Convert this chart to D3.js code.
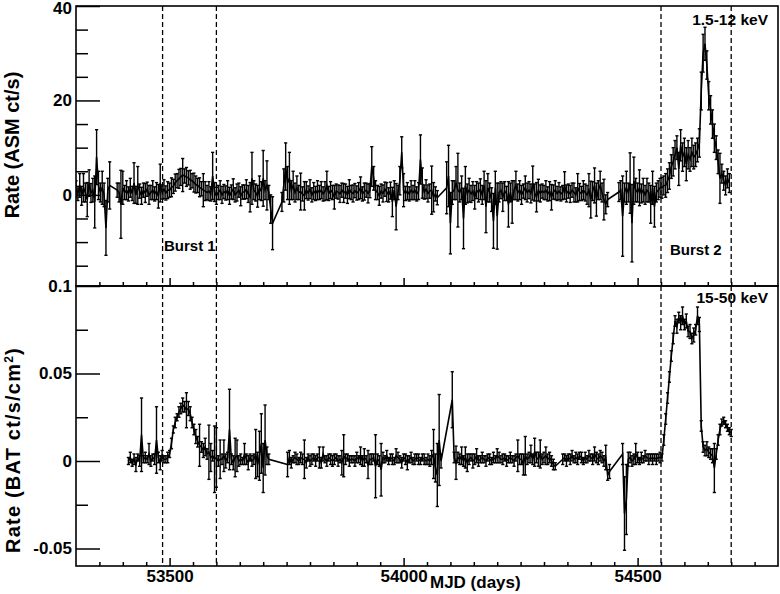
<!DOCTYPE html>
<html><head><meta charset="utf-8">
<script src="https://cdn.jsdelivr.net/npm/d3@7"></script>
<style>
body{margin:0;background:#fff}
svg text{font-family:"Liberation Sans",Arial,Helvetica,sans-serif;font-weight:bold;fill:#000}
</style>
</head><body>
<svg id="c" width="780" height="594"></svg>
<script>
// ---------------- DATA ----------------
// RXTE/ASM 1.5-12 keV, 4-day sampling from MJD 53300 (null = no data)
const asmStart = 53300, asmStep = 4;
const asmRate = [
 1.2,0.3,2.0,-0.2,1.5,0.5,-1.0,2.5,0.4,1.0,
 -1.5,8.0,2.0,0.5,1.5,0.0,-7.0,1.0,2.0,null,
 null,null,1.0,0.5,-2.0,1.5,0.5,1.0,0.2,1.5,
 0.3,2.5,0.0,2.0,0.8,-0.2,1.0,0.4,1.2,0.0,
 0.5,1.0,0.2,0.8,-0.3,2.5,0.6,1.2,0.4,1.0,
 1.0,1.6,1.8,2.6,3.0,3.4,3.8,4.2,4.0,3.8,
 3.6,3.2,3.0,2.6,2.2,2.0,1.6,1.3,1.0,0.8,
 0.5,0.8,0.2,4.0,0.6,-0.2,0.5,1.0,0.0,0.7,
 0.4,1.0,-0.2,0.6,1.2,0.0,0.5,1.0,-0.3,0.6,
 0.6,1.2,0.2,-0.5,3.5,1.0,0.5,-0.3,1.5,0.8,
 3.5,1.0,2.0,0.5,-3.0,-6.0,null,null,null,null,
 -1.5,2.0,6.0,2.5,3.5,1.0,2.0,0.5,1.5,0.5,
 0.7,0.2,-0.2,1.0,0.4,1.2,0.0,0.8,0.3,1.0,
 0.5,1.0,0.2,0.8,2.0,0.3,1.0,0.5,-0.5,0.8,
 0.6,0.2,1.0,0.4,0.8,0.0,1.2,0.5,0.3,0.9,
 0.4,0.8,1.5,0.2,0.7,1.0,0.3,0.9,6.0,3.5,
 1.0,0.5,-0.2,0.8,0.3,1.2,0.6,0.0,0.9,-1.5,
 1.0,-2.5,0.5,3.0,9.0,1.0,0.3,0.8,0.2,1.0,
 0.5,1.0,0.2,0.8,7.5,2.5,0.6,1.2,0.3,0.8,
 1.0,-0.5,0.2,-0.6,null,null,null,null,1.5,4.0,
 -6.0,0.5,1.0,2.5,1.0,0.5,1.5,-5.0,2.0,0.3,
 1.0,0.2,0.8,-0.5,1.0,0.5,1.2,0.0,2.0,-2.5,
 1.5,0.5,-1.0,-5.5,1.5,-4.5,0.5,1.0,-0.5,0.8,
 0.3,-2.0,0.5,-1.5,1.0,2.0,0.5,1.0,0.0,0.8,
 1.5,0.5,1.0,0.3,2.5,0.5,-0.5,1.0,0.3,0.8,
 0.5,1.0,0.2,0.8,-0.5,0.6,1.0,0.3,0.8,0.2,
 0.5,2.0,0.3,0.8,0.2,1.0,0.5,0.0,1.5,0.6,
 0.3,1.0,0.5,0.0,1.0,-1.0,0.8,2.0,-1.0,1.0,
 2.0,0.5,-1.0,-2.0,-1.0,null,null,null,null,null,
 0.6,1.0,-4.5,0.5,1.5,0.5,2.5,-6.0,3.0,1.0,
 0.5,1.5,0.3,1.0,0.0,1.0,0.5,-2.0,1.5,-2.5,
 0.5,1.0,1.5,1.5,2.0,2.0,3.0,4.0,6.0,7.0,
 8.5,10.0,5.5,10.5,8.0,9.0,6.5,8.5,7.5,9.0,
 8.0,8.5,9.5,11.0,22.0,30.0,32.0,27.5,21.0,18.0,
 15.0,12.0,10.0,7.0,3.5,4.5,3.0,2.0,3.5,2.5
];
const asmErr = [
 1.8,1.5,2.5,2.0,3.0,2.0,3.6,2.8,2.0,2.5,
 5.5,5.8,3.0,2.0,3.5,2.5,5.8,2.5,5.0,null,
 null,null,1.5,2.0,7.2,3.5,1.5,2.0,1.5,2.0,
 1.5,4.3,1.8,4.0,1.5,1.8,1.5,2.0,1.5,2.0,
 1.5,2.0,1.5,1.8,2.5,4.0,1.5,2.0,1.5,1.8,
 1.5,2.0,1.5,1.8,1.5,2.0,1.8,3.5,1.5,2.0,
 1.5,2.0,1.5,2.0,1.8,1.5,2.0,1.5,3.5,2.0,
 1.5,2.0,1.5,5.0,2.0,1.8,1.5,2.0,1.8,1.5,
 1.5,2.0,1.8,1.5,2.2,1.5,1.8,1.5,2.0,1.5,
 1.5,2.0,1.8,3.1,5.5,2.0,1.8,2.3,2.5,2.0,
 5.9,2.0,5.2,1.5,3.0,5.6,null,null,null,null,
 2.0,3.5,5.0,3.5,5.5,2.0,3.0,2.0,2.5,1.5,
 3.9,1.5,3.0,1.8,1.5,2.0,1.5,1.8,1.5,2.0,
 1.5,1.8,1.5,2.0,3.0,1.5,1.8,1.5,2.5,1.5,
 1.5,1.8,1.5,2.0,1.5,1.8,2.0,1.5,1.8,1.5,
 1.5,1.8,2.3,1.5,1.8,1.5,2.0,1.5,4.2,2.5,
 2.0,1.5,2.0,1.5,1.8,1.5,2.0,1.5,1.8,3.1,
 2.0,4.9,1.5,3.0,3.3,3.5,1.5,1.8,1.5,2.0,
 1.5,2.0,1.5,1.8,5.2,3.2,1.5,2.0,1.8,1.5,
 5.1,3.1,1.5,1.5,null,null,null,null,5.5,6.5,
 6.5,2.5,2.0,3.5,7.8,2.0,2.5,6.4,4.0,2.0,
 2.5,1.8,2.0,2.5,1.8,2.0,2.2,2.0,3.0,5.5,
 3.0,2.0,2.5,5.8,3.5,7.0,2.0,1.8,3.0,2.0,
 1.5,4.8,2.0,4.5,2.0,3.0,1.8,2.0,2.0,1.5,
 2.5,2.0,1.8,2.0,3.6,1.8,3.1,2.3,1.8,1.5,
 1.5,2.0,1.5,2.0,2.7,1.5,2.0,1.5,1.8,1.5,
 1.5,2.9,1.8,1.5,1.8,1.5,2.0,1.5,3.0,1.8,
 1.5,2.0,1.8,2.0,3.5,3.9,2.0,3.7,3.5,2.0,
 3.0,2.0,4.3,2.0,1.5,null,null,null,null,null,
 2.0,2.0,8.5,2.0,3.5,2.0,6.4,8.2,5.0,2.5,
 2.0,3.8,2.0,2.5,2.0,2.5,2.0,4.0,3.5,4.3,
 2.0,2.0,2.0,2.2,2.0,2.5,2.5,2.8,2.5,3.0,
 3.0,2.5,3.5,3.3,3.0,3.0,3.5,3.0,2.5,3.0,
 2.5,2.5,2.5,3.0,4.0,4.0,3.5,3.0,3.0,3.0,
 3.0,3.0,2.5,2.5,5.3,2.0,2.0,2.0,2.0,2.0
];

// Swift/BAT 15-50 keV, 4-day sampling from MJD 53412 (null = no data)
const batStart = 53412, batStep = 4;
const batRate = [
 0.000,0.002,-0.001,0.001,-0.002,0.002,0.000,0.015,0.001,0.002,
 0.001,0.004,0.000,0.002,0.001,0.012,0.002,-0.001,0.003,0.001,
 0.001,0.002,0.004,0.010,0.018,0.022,0.025,0.028,0.030,0.032,
 0.031,0.029,0.030,0.027,0.022,0.018,0.014,0.011,0.009,0.008,
 0.006,0.008,0.004,0.005,0.002,0.003,0.001,0.002,0.000,0.001,
 0.001,0.003,0.000,0.002,0.018,0.001,-0.001,0.002,0.003,0.000,
 0.001,0.000,0.004,0.001,-0.001,0.002,0.000,0.001,0.004,-0.002,
 0.003,0.010,-0.004,0.012,0.003,0.001,null,null,null,null,
 null,null,null,null,null,-0.002,0.002,-0.001,0.001,0.002,
 0.001,0.000,0.002,0.001,0.001,-0.001,0.002,0.000,0.001,0.002,
 0.000,0.002,0.002,-0.001,0.004,0.001,0.000,0.002,0.001,0.000,
 0.001,0.002,0.000,0.001,-0.001,0.003,0.001,0.002,0.000,0.001,
 0.001,0.000,0.002,0.001,0.003,0.000,0.002,0.001,-0.002,0.001,
 0.001,0.002,-0.003,0.001,0.000,-0.005,0.002,0.001,0.003,0.000,
 0.002,0.001,0.000,0.003,0.002,0.001,-0.001,0.002,0.001,-0.001,
 0.001,0.002,0.000,0.001,0.002,0.001,0.000,0.002,0.001,0.000,
 0.001,0.000,0.002,0.004,-0.004,-0.008,0.012,0.000,null,null,
 null,null,null,0.035,0.002,-0.001,0.002,0.001,0.003,0.000,
 0.002,-0.001,0.001,0.002,0.000,0.001,0.003,0.000,0.001,0.002,
 0.001,0.000,0.002,0.001,0.000,0.002,0.001,0.003,0.002,0.001,
 0.001,0.002,0.000,0.001,0.002,0.001,0.000,0.002,0.003,0.001,
 0.001,-0.002,0.003,0.001,0.002,0.004,0.001,0.005,0.002,0.001,
 0.004,0.001,0.002,0.003,0.001,0.002,0.000,-0.002,-0.003,null,
 null,null,0.001,0.002,0.000,0.002,0.001,0.003,0.001,0.002,
 0.001,0.003,0.002,0.000,0.002,0.001,0.003,0.002,0.001,0.004,
 0.002,0.001,0.003,0.002,0.000,0.002,-0.008,-0.006,null,null,
 null,null,null,null,0.004,-0.030,-0.022,0.001,0.002,0.000,
 0.001,0.004,0.002,0.000,0.002,0.001,0.003,0.002,0.001,0.002,
 0.001,0.002,0.001,0.002,0.002,0.002,0.012,0.024,0.036,0.048,
 0.060,0.070,0.080,0.077,0.082,0.079,0.083,0.078,0.080,0.074,
 0.074,0.070,0.072,0.075,0.083,0.078,0.020,0.008,0.006,0.007,
 0.005,0.004,0.003,-0.004,0.004,0.012,0.018,0.022,0.023,0.021,
 0.019,0.017,0.016
];
const batErr = [
 0.002,0.003,0.002,0.003,0.004,0.002,0.003,0.021,0.002,0.003,
 0.002,0.006,0.003,0.002,0.003,0.019,0.003,0.004,0.003,0.002,
 0.002,0.003,0.002,0.003,0.002,0.003,0.002,0.003,0.003,0.004,
 0.003,0.010,0.004,0.004,0.003,0.003,0.004,0.003,0.012,0.003,
 0.004,0.005,0.003,0.0155,0.008,0.003,0.019,0.017,0.003,0.011,
 0.003,0.009,0.004,0.003,0.023,0.003,0.004,0.011,0.009,0.003,
 0.003,0.002,0.006,0.003,0.004,0.002,0.003,0.003,0.014,0.007,
 0.014,0.017,0.014,0.020,0.005,0.003,null,null,null,null,
 null,null,null,null,null,0.007,0.004,0.003,0.002,0.003,
 0.003,0.002,0.003,0.003,0.011,0.003,0.002,0.003,0.003,0.002,
 0.003,0.002,0.006,0.003,0.004,0.002,0.003,0.002,0.003,0.003,
 0.003,0.002,0.003,0.002,0.007,0.012,0.003,0.002,0.003,0.002,
 0.002,0.003,0.003,0.002,0.005,0.003,0.005,0.002,0.008,0.003,
 0.003,0.002,0.018,0.003,0.003,0.015,0.003,0.002,0.003,0.002,
 0.002,0.003,0.002,0.004,0.003,0.002,0.003,0.002,0.003,0.004,
 0.002,0.003,0.002,0.003,0.002,0.003,0.002,0.002,0.003,0.002,
 0.003,0.003,0.004,0.014,0.008,0.018,0.026,0.004,null,null,
 null,null,null,0.016,0.003,0.0095,0.003,0.003,0.005,0.003,
 0.006,0.005,0.003,0.002,0.004,0.003,0.004,0.003,0.002,0.003,
 0.002,0.003,0.002,0.003,0.002,0.003,0.002,0.004,0.003,0.002,
 0.003,0.002,0.003,0.002,0.003,0.002,0.003,0.002,0.009,0.003,
 0.003,0.006,0.011,0.003,0.003,0.005,0.003,0.008,0.003,0.004,
 0.008,0.003,0.003,0.005,0.003,0.003,0.003,0.003,0.002,null,
 null,null,0.003,0.002,0.003,0.002,0.003,0.003,0.002,0.003,
 0.003,0.002,0.003,0.002,0.003,0.002,0.003,0.002,0.003,0.004,
 0.003,0.003,0.003,0.003,0.003,0.007,0.003,0.004,null,null,
 null,null,null,null,0.006,0.021,0.020,0.004,0.003,0.003,
 0.003,0.006,0.003,0.002,0.003,0.002,0.003,0.002,0.003,0.002,
 0.003,0.002,0.003,0.002,0.003,0.002,0.003,0.003,0.003,0.003,
 0.003,0.003,0.003,0.004,0.003,0.004,0.005,0.003,0.004,0.003,
 0.004,0.003,0.004,0.003,0.005,0.004,0.003,0.003,0.003,0.004,
 0.003,0.003,0.004,0.014,0.003,0.003,0.003,0.002,0.002,0.002,
 0.002,0.002,0.002
];

// burst interval boundaries (MJD)
const burstLines = [53485, 53600, 54550, 54700];
const xMajorTicks = [53500, 54000, 54500];
const asmMajorTicks = [0, 20, 40];
const asmMinorTicks = [-15, -10, -5, 5, 10, 15, 25, 30, 35];
const batMajorTicks = [-0.05, 0, 0.05, 0.1];
const batTickLabels = ["-0.05", "0", "0.05", "0.1"];
const batMinorTicks = [-0.025, 0.025, 0.075];

// ---------------- LAYOUT ----------------
const svg = d3.select("#c");
svg.append("rect").attr("width", 780).attr("height", 594).attr("fill", "#fff");
const L = 76, R = 778, T1 = 6, B1 = 286, T2 = 286, B2 = 566;
const x = d3.scaleLinear().domain([53300, 54800]).range([L, R]);
const yA = d3.scaleLinear().domain([-19.3, 40]).range([B1, T1]);
const yB = d3.scaleLinear().domain([-0.06, 0.1]).range([B2, T2]);
const xMinor = d3.range(53350, 54800, 50).filter(t => !xMajorTicks.includes(t));

const asmData = asmRate.map((v, i) => ({t: asmStart + asmStep * i, v, e: asmErr[i]})).filter(d => d.v !== null);
const batData = batRate.map((v, i) => ({t: batStart + batStep * i, v, e: batErr[i]})).filter(d => d.v !== null);

function drawSeries(data, y, top, bottom, id) {
  svg.append("clipPath").attr("id", id).append("rect")
    .attr("x", L).attr("y", top).attr("width", R - L).attr("height", bottom - top);
  const g = svg.append("g").attr("clip-path", `url(#${id})`);
  const eb = g.append("g").attr("stroke", "#000").attr("stroke-width", 1.4);
  eb.selectAll("line.v").data(data).join("line").attr("class", "v")
    .attr("x1", d => x(d.t)).attr("x2", d => x(d.t))
    .attr("y1", d => y(d.v - d.e)).attr("y2", d => y(d.v + d.e));
  eb.selectAll("line.ct").data(data).join("line").attr("class", "ct")
    .attr("x1", d => x(d.t) - 1.6).attr("x2", d => x(d.t) + 1.6)
    .attr("y1", d => y(d.v + d.e)).attr("y2", d => y(d.v + d.e));
  eb.selectAll("line.cb").data(data).join("line").attr("class", "cb")
    .attr("x1", d => x(d.t) - 1.6).attr("x2", d => x(d.t) + 1.6)
    .attr("y1", d => y(d.v - d.e)).attr("y2", d => y(d.v - d.e));
  g.append("path").datum(data)
    .attr("d", d3.line().x(d => x(d.t)).y(d => y(d.v)))
    .attr("fill", "none").attr("stroke", "#000").attr("stroke-width", 1.6);
}
drawSeries(asmData, yA, T1, B1, "clipA");
drawSeries(batData, yB, T2, B2, "clipB");

// axes helper
function styleAxis(g, size) {
  g.select(".domain").remove();
  g.selectAll(".tick line").attr("stroke", "#000").attr("stroke-width", 1.5);
  g.selectAll("text").attr("font-size", size).attr("font-family", '"Liberation Sans",Arial,sans-serif')
    .attr("font-weight", "bold").attr("fill", "#000");
}
// Y axes top
svg.append("g").attr("transform", `translate(${L},0)`)
  .call(d3.axisLeft(yA).tickValues(asmMajorTicks).tickSize(-24).tickPadding(4).tickFormat(d3.format("d")))
  .call(g => styleAxis(g, 17))
  .call(g => g.selectAll(".tick text").attr("dy", (d) => d === 40 ? "0.45em" : "0.32em"));
svg.append("g").attr("transform", `translate(${L},0)`)
  .call(d3.axisLeft(yA).tickValues(asmMinorTicks).tickSize(-12).tickFormat(""))
  .call(g => styleAxis(g, 17));
// Y axes bottom
svg.append("g").attr("transform", `translate(${L},0)`)
  .call(d3.axisLeft(yB).tickValues(batMajorTicks).tickSize(-24).tickPadding(4)
    .tickFormat((d, i) => batTickLabels[i]))
  .call(g => styleAxis(g, 17));
svg.append("g").attr("transform", `translate(${L},0)`)
  .call(d3.axisLeft(yB).tickValues(batMinorTicks).tickSize(-12).tickFormat(""))
  .call(g => styleAxis(g, 17));
// X axes (top panel: no labels)
[B1, B2].forEach((yy, k) => {
  svg.append("g").attr("transform", `translate(0,${yy})`)
    .call(d3.axisBottom(x).tickValues(xMinor).tickSize(-4).tickFormat(""))
    .call(g => styleAxis(g, 17));
  svg.append("g").attr("transform", `translate(0,${yy})`)
    .call(d3.axisBottom(x).tickValues(xMajorTicks).tickSize(-8).tickPadding(4)
      .tickFormat(k === 1 ? d3.format("d") : ""))
    .call(g => styleAxis(g, 17));
});

// frames
[[T1, B1], [T2, B2]].forEach(([t, b]) => {
  svg.append("rect").attr("x", L).attr("y", t).attr("width", R - L).attr("height", b - t)
    .attr("fill", "none").attr("stroke", "#000").attr("stroke-width", 1.6);
});

// dashed burst lines
svg.append("g").selectAll("line").data(burstLines).join("line")
  .attr("x1", d => x(d)).attr("x2", d => x(d)).attr("y1", T1).attr("y2", B2)
  .attr("stroke", "#000").attr("stroke-width", 1.3).attr("stroke-dasharray", "5,3");

// texts
svg.append("text").attr("x", 768).attr("y", 25).attr("text-anchor", "end").attr("font-size", 15.5).text("1.5-12 keV");
svg.append("text").attr("x", 768).attr("y", 303).attr("text-anchor", "end").attr("font-size", 15.5).text("15-50 keV");
svg.append("text").attr("x", 164).attr("y", 251).attr("font-size", 15).text("Burst 1");
svg.append("text").attr("x", 670).attr("y", 255).attr("font-size", 15).text("Burst 2");
svg.append("text").attr("x", 430).attr("y", 588).attr("font-size", 17).text("MJD (days)");
svg.append("text").attr("transform", "translate(19,145) rotate(-90)").attr("text-anchor", "middle")
  .attr("font-size", 20).text("Rate (ASM ct/s)");
const bt = svg.append("text").attr("transform", "translate(20,450) rotate(-90)").attr("text-anchor", "middle")
  .attr("font-size", 20).attr("letter-spacing", 1.2);
bt.append("tspan").text("Rate (BAT ct/s/cm");
bt.append("tspan").attr("font-size", 12).attr("dy", -7).text("2");
bt.append("tspan").attr("dy", 7).text(")");
</script>
</body></html>
